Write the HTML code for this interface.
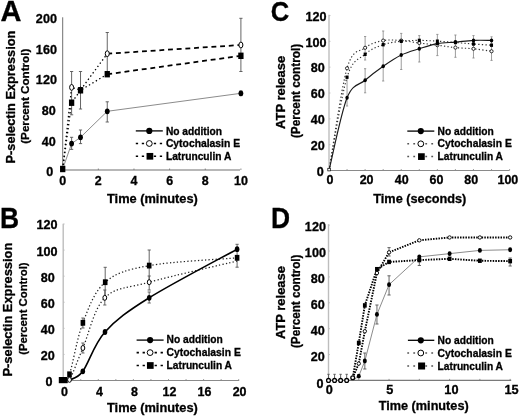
<!DOCTYPE html>
<html><head><meta charset="utf-8"><style>
html,body{margin:0;padding:0;background:#fff;}
svg{display:block;font-family:"Liberation Sans", sans-serif;filter:blur(0.4px);}
text{stroke:#000;stroke-width:0.3px;}
</style></head><body>
<svg width="520" height="416" viewBox="0 0 520 416">
<rect width="520" height="416" fill="#fff"/>
<path d="M62.7,17.3 L62.7,170.0" fill="none" stroke="#707070" stroke-width="1"/>
<path d="M62.7,170.0 L240.0,170.0" fill="none" stroke="#707070" stroke-width="1.2"/>
<path d="M98.34,170.0 L98.34,168.50" stroke="#707070" stroke-width="0.8"/>
<path d="M133.98,170.0 L133.98,168.50" stroke="#707070" stroke-width="0.8"/>
<path d="M169.62,170.0 L169.62,168.50" stroke="#707070" stroke-width="0.8"/>
<path d="M205.26,170.0 L205.26,168.50" stroke="#707070" stroke-width="0.8"/>
<path d="M240.90,170.0 L240.90,168.50" stroke="#707070" stroke-width="0.8"/>
<text x="0.6" y="20.7" font-size="29.0" text-anchor="start" font-weight="bold" fill="#000">A</text>
<text x="49.65" y="176.15" font-size="12" text-anchor="middle" font-weight="bold" fill="#000" textLength="7.01" lengthAdjust="spacingAndGlyphs">0</text>
<text x="48.75" y="145.52" font-size="12" text-anchor="middle" font-weight="bold" fill="#000" textLength="14.01" lengthAdjust="spacingAndGlyphs">40</text>
<text x="48.75" y="114.89" font-size="12" text-anchor="middle" font-weight="bold" fill="#000" textLength="14.01" lengthAdjust="spacingAndGlyphs">80</text>
<text x="46.4" y="84.25" font-size="12" text-anchor="middle" font-weight="bold" fill="#000" textLength="21.02" lengthAdjust="spacingAndGlyphs">120</text>
<text x="46.4" y="53.62" font-size="12" text-anchor="middle" font-weight="bold" fill="#000" textLength="21.02" lengthAdjust="spacingAndGlyphs">160</text>
<text x="46.4" y="22.99" font-size="12" text-anchor="middle" font-weight="bold" fill="#000" textLength="21.02" lengthAdjust="spacingAndGlyphs">200</text>
<text x="62.7" y="184.5" font-size="12" text-anchor="middle" font-weight="bold" fill="#000" textLength="6.94" lengthAdjust="spacingAndGlyphs">0</text>
<text x="98.34" y="184.5" font-size="12" text-anchor="middle" font-weight="bold" fill="#000" textLength="6.94" lengthAdjust="spacingAndGlyphs">2</text>
<text x="133.98000000000002" y="184.5" font-size="12" text-anchor="middle" font-weight="bold" fill="#000" textLength="6.94" lengthAdjust="spacingAndGlyphs">4</text>
<text x="169.62" y="184.5" font-size="12" text-anchor="middle" font-weight="bold" fill="#000" textLength="6.94" lengthAdjust="spacingAndGlyphs">6</text>
<text x="205.26" y="184.5" font-size="12" text-anchor="middle" font-weight="bold" fill="#000" textLength="6.94" lengthAdjust="spacingAndGlyphs">8</text>
<text x="240.89999999999998" y="184.5" font-size="12" text-anchor="middle" font-weight="bold" fill="#000" textLength="13.88" lengthAdjust="spacingAndGlyphs">10</text>
<text x="152.4" y="202.8" font-size="12.6" text-anchor="middle" font-weight="bold" fill="#000" textLength="90.8" lengthAdjust="spacingAndGlyphs">Time (minutes)</text>
<text transform="translate(14.5,97.1) rotate(-90)" font-size="12.6" text-anchor="middle" font-weight="bold" fill="#000" textLength="132.8" lengthAdjust="spacingAndGlyphs">P-selectin Expression</text>
<text transform="translate(28.6,96.25) rotate(-90)" font-size="11.6" text-anchor="middle" font-weight="bold" fill="#000" textLength="95" lengthAdjust="spacingAndGlyphs">(Percent Control)</text>
<path d="M71.61,137.30 L71.61,149.40 M70.01,137.30 L73.21,137.30 M70.01,149.40 L73.21,149.40" stroke="#555" stroke-width="0.9" fill="none"/>
<path d="M80.52,130.00 L80.52,143.60 M78.92,130.00 L82.12,130.00 M78.92,143.60 L82.12,143.60" stroke="#555" stroke-width="0.9" fill="none"/>
<path d="M107.25,101.80 L107.25,122.00 M105.65,101.80 L108.85,101.80 M105.65,122.00 L108.85,122.00" stroke="#555" stroke-width="0.9" fill="none"/>
<path d="M240.90,91.00 L240.90,95.60 M239.30,91.00 L242.50,91.00 M239.30,95.60 L242.50,95.60" stroke="#555" stroke-width="0.9" fill="none"/>
<path d="M71.61,71.50 L71.61,114.80 M70.01,71.50 L73.21,71.50 M70.01,114.80 L73.21,114.80" stroke="#555" stroke-width="0.9" fill="none"/>
<path d="M80.52,71.50 L80.52,109.00 M78.92,71.50 L82.12,71.50 M78.92,109.00 L82.12,109.00" stroke="#555" stroke-width="0.9" fill="none"/>
<path d="M107.25,32.50 L107.25,74.00 M105.65,32.50 L108.85,32.50 M105.65,74.00 L108.85,74.00" stroke="#555" stroke-width="0.9" fill="none"/>
<path d="M240.90,18.30 L240.90,71.50 M239.30,18.30 L242.50,18.30 M239.30,71.50 L242.50,71.50" stroke="#555" stroke-width="0.9" fill="none"/>
<path d="M62.70,169.00 L71.61,143.60 L80.52,137.30 L107.25,111.30 L240.90,93.30" fill="none" stroke="#8c8c8c" stroke-width="1" stroke-linecap="butt"/>
<path d="M62.70,169.00 L71.61,87.40 L80.52,90.00 L107.25,53.70" fill="none" stroke="#000" stroke-width="1.3" stroke-dasharray="1.4,2.6" stroke-linecap="butt"/>
<path d="M62.70,169.00 L71.61,102.70 L80.52,90.30 L107.25,74.20" fill="none" stroke="#000" stroke-width="1.3" stroke-dasharray="1.4,2.6" stroke-linecap="butt"/>
<path d="M107.25,53.70 L240.90,45.00" fill="none" stroke="#000" stroke-width="1.75" stroke-dasharray="4.9,3.8" stroke-linecap="butt"/>
<path d="M107.25,74.20 L240.90,55.80" fill="none" stroke="#000" stroke-width="1.75" stroke-dasharray="4.9,3.8" stroke-linecap="butt"/>
<ellipse cx="71.61" cy="143.60" rx="2.4" ry="2.9" fill="#000"/>
<ellipse cx="80.52" cy="137.30" rx="2.4" ry="2.9" fill="#000"/>
<ellipse cx="107.25" cy="111.30" rx="2.4" ry="2.9" fill="#000"/>
<ellipse cx="240.90" cy="93.30" rx="2.4" ry="2.9" fill="#000"/>
<ellipse cx="71.61" cy="87.40" rx="2.0" ry="2.9" fill="#fff" stroke="#000" stroke-width="1.0"/>
<ellipse cx="80.52" cy="90.00" rx="2.0" ry="2.9" fill="#fff" stroke="#000" stroke-width="1.0"/>
<ellipse cx="107.25" cy="53.70" rx="2.0" ry="2.9" fill="#fff" stroke="#000" stroke-width="1.0"/>
<ellipse cx="240.90" cy="45.00" rx="2.0" ry="2.9" fill="#fff" stroke="#000" stroke-width="1.0"/>
<rect x="60.05" y="165.80" width="5.3" height="6.4" fill="#000"/>
<rect x="68.96" y="99.50" width="5.3" height="6.4" fill="#000"/>
<rect x="77.87" y="87.10" width="5.3" height="6.4" fill="#000"/>
<rect x="104.60" y="71.00" width="5.3" height="6.4" fill="#000"/>
<rect x="238.25" y="52.60" width="5.3" height="6.4" fill="#000"/>
<path d="M135.80,130.90 L162.80,130.90" fill="none" stroke="#000" stroke-width="1.3" stroke-linecap="butt"/>
<ellipse cx="149.30" cy="130.90" rx="3.1" ry="3.1" fill="#000"/>
<path d="M135.8,143.5 L162.8,143.5" stroke="#000" stroke-width="1.6" stroke-dasharray="2.3,3.7"/>
<path d="M135.8,156.3 L162.8,156.3" stroke="#000" stroke-width="1.6" stroke-dasharray="2.3,3.7"/>
<ellipse cx="149.30" cy="143.50" rx="2.9" ry="2.9" fill="#fff" stroke="#000" stroke-width="1"/>
<rect x="146.55" y="152.95" width="6.7" height="6.7" fill="#000"/>
<text x="165.90000000000003" y="134.5" font-size="10.4" text-anchor="start" font-weight="bold" fill="#000" textLength="56.2" lengthAdjust="spacingAndGlyphs">No addition</text>
<text x="165.90000000000003" y="147.1" font-size="10.4" text-anchor="start" font-weight="bold" fill="#000" textLength="74.2" lengthAdjust="spacingAndGlyphs">Cytochalasin E</text>
<text x="165.90000000000003" y="159.9" font-size="10.4" text-anchor="start" font-weight="bold" fill="#000" textLength="65.4" lengthAdjust="spacingAndGlyphs">Latrunculin A</text>
<path d="M63.2,223.8 L63.2,380.5" fill="none" stroke="#bdbdbd" stroke-width="1.4"/>
<path d="M63.2,380.5 L239.2,380.5" fill="none" stroke="#8a8a8a" stroke-width="1"/>
<path d="M80.75,380.5 L80.75,379.00" stroke="#8a8a8a" stroke-width="0.8"/>
<path d="M98.30,380.5 L98.30,379.00" stroke="#8a8a8a" stroke-width="0.8"/>
<path d="M115.85,380.5 L115.85,379.00" stroke="#8a8a8a" stroke-width="0.8"/>
<path d="M133.40,380.5 L133.40,379.00" stroke="#8a8a8a" stroke-width="0.8"/>
<path d="M150.95,380.5 L150.95,379.00" stroke="#8a8a8a" stroke-width="0.8"/>
<path d="M168.50,380.5 L168.50,379.00" stroke="#8a8a8a" stroke-width="0.8"/>
<path d="M186.05,380.5 L186.05,379.00" stroke="#8a8a8a" stroke-width="0.8"/>
<path d="M203.60,380.5 L203.60,379.00" stroke="#8a8a8a" stroke-width="0.8"/>
<path d="M221.15,380.5 L221.15,379.00" stroke="#8a8a8a" stroke-width="0.8"/>
<path d="M238.70,380.5 L238.70,379.00" stroke="#8a8a8a" stroke-width="0.8"/>
<path d="M63.2,354.42 L64.70,354.42" stroke="#bdbdbd" stroke-width="0.8"/>
<path d="M63.2,328.34 L64.70,328.34" stroke="#bdbdbd" stroke-width="0.8"/>
<path d="M63.2,302.26 L64.70,302.26" stroke="#bdbdbd" stroke-width="0.8"/>
<path d="M63.2,276.18 L64.70,276.18" stroke="#bdbdbd" stroke-width="0.8"/>
<path d="M63.2,250.10 L64.70,250.10" stroke="#bdbdbd" stroke-width="0.8"/>
<path d="M63.2,224.02 L64.70,224.02" stroke="#bdbdbd" stroke-width="0.8"/>
<text x="0.1" y="227.9" font-size="28.8" text-anchor="start" font-weight="bold" fill="#000" textLength="19.1" lengthAdjust="spacingAndGlyphs">B</text>
<text x="49.05" y="386.34" font-size="12" text-anchor="middle" font-weight="bold" fill="#000" textLength="7.01" lengthAdjust="spacingAndGlyphs">0</text>
<text x="47.65" y="360.19" font-size="12" text-anchor="middle" font-weight="bold" fill="#000" textLength="14.01" lengthAdjust="spacingAndGlyphs">20</text>
<text x="47.65" y="334.04" font-size="12" text-anchor="middle" font-weight="bold" fill="#000" textLength="14.01" lengthAdjust="spacingAndGlyphs">40</text>
<text x="47.65" y="307.89" font-size="12" text-anchor="middle" font-weight="bold" fill="#000" textLength="14.01" lengthAdjust="spacingAndGlyphs">60</text>
<text x="47.65" y="281.74" font-size="12" text-anchor="middle" font-weight="bold" fill="#000" textLength="14.01" lengthAdjust="spacingAndGlyphs">80</text>
<text x="47.1" y="255.59" font-size="12" text-anchor="middle" font-weight="bold" fill="#000" textLength="21.02" lengthAdjust="spacingAndGlyphs">100</text>
<text x="47.1" y="229.44" font-size="12" text-anchor="middle" font-weight="bold" fill="#000" textLength="21.02" lengthAdjust="spacingAndGlyphs">120</text>
<text x="64.4" y="396.2" font-size="12" text-anchor="middle" font-weight="bold" fill="#000" textLength="6.94" lengthAdjust="spacingAndGlyphs">0</text>
<text x="99.44" y="396.2" font-size="12" text-anchor="middle" font-weight="bold" fill="#000" textLength="6.94" lengthAdjust="spacingAndGlyphs">4</text>
<text x="134.48000000000002" y="396.2" font-size="12" text-anchor="middle" font-weight="bold" fill="#000" textLength="6.94" lengthAdjust="spacingAndGlyphs">8</text>
<text x="169.52" y="396.2" font-size="12" text-anchor="middle" font-weight="bold" fill="#000" textLength="13.88" lengthAdjust="spacingAndGlyphs">12</text>
<text x="204.56" y="396.2" font-size="12" text-anchor="middle" font-weight="bold" fill="#000" textLength="13.88" lengthAdjust="spacingAndGlyphs">16</text>
<text x="239.6" y="396.2" font-size="12" text-anchor="middle" font-weight="bold" fill="#000" textLength="13.88" lengthAdjust="spacingAndGlyphs">20</text>
<text x="152.4" y="411.8" font-size="12.6" text-anchor="middle" font-weight="bold" fill="#000" textLength="90.8" lengthAdjust="spacingAndGlyphs">Time (minutes)</text>
<text transform="translate(11.8,309.65) rotate(-90)" font-size="12.8" text-anchor="middle" font-weight="bold" fill="#000" textLength="133.9" lengthAdjust="spacingAndGlyphs">P-selectin Expression</text>
<text transform="translate(26.8,308.6) rotate(-90)" font-size="11.6" text-anchor="middle" font-weight="bold" fill="#000" textLength="92.3" lengthAdjust="spacingAndGlyphs">(Percent Control)</text>
<path d="M82.90,318.00 L82.90,328.00 M81.30,318.00 L84.50,318.00 M81.30,328.00 L84.50,328.00" stroke="#555" stroke-width="0.9" fill="none"/>
<path d="M82.90,343.00 L82.90,353.00 M81.30,343.00 L84.50,343.00 M81.30,353.00 L84.50,353.00" stroke="#555" stroke-width="0.9" fill="none"/>
<path d="M105.20,267.30 L105.20,297.00 M103.60,267.30 L106.80,267.30 M103.60,297.00 L106.80,297.00" stroke="#555" stroke-width="0.9" fill="none"/>
<path d="M104.80,290.00 L104.80,305.00 M103.20,290.00 L106.40,290.00 M103.20,305.00 L106.40,305.00" stroke="#555" stroke-width="0.9" fill="none"/>
<path d="M149.20,250.00 L149.20,281.00 M147.60,250.00 L150.80,250.00 M147.60,281.00 L150.80,281.00" stroke="#555" stroke-width="0.9" fill="none"/>
<path d="M149.20,276.00 L149.20,290.00 M147.60,276.00 L150.80,276.00 M147.60,290.00 L150.80,290.00" stroke="#555" stroke-width="0.9" fill="none"/>
<path d="M149.20,292.00 L149.20,303.00 M147.60,292.00 L150.80,292.00 M147.60,303.00 L150.80,303.00" stroke="#555" stroke-width="0.9" fill="none"/>
<path d="M237.10,244.30 L237.10,267.20 M235.50,244.30 L238.70,244.30 M235.50,267.20 L238.70,267.20" stroke="#555" stroke-width="0.9" fill="none"/>
<path d="M63.20,380.20 C64.25,379.22 66.22,383.87 69.50,374.30 C72.78,364.73 76.95,338.15 82.90,322.80 C88.85,307.45 94.15,291.73 105.20,282.20 C116.25,272.67 127.22,269.67 149.20,265.60 C171.18,261.53 222.45,259.10 237.10,257.80" fill="none" stroke="#222" stroke-width="1.25" stroke-dasharray="1.3,2.2" stroke-linecap="butt"/>
<path d="M63.20,380.20 C64.25,380.13 66.22,385.17 69.50,379.80 C72.78,374.43 77.02,361.67 82.90,348.00 C88.78,334.33 93.75,308.77 104.80,297.80 C115.85,286.83 127.15,288.33 149.20,282.20 C171.25,276.07 222.45,264.53 237.10,261.00" fill="none" stroke="#222" stroke-width="1.25" stroke-dasharray="1.3,2.2" stroke-linecap="butt"/>
<path d="M69.50,380.00 C71.72,378.55 76.88,379.30 82.80,371.30 C88.72,363.30 93.93,344.25 105.00,332.00 C116.07,319.75 127.18,311.60 149.20,297.80 C171.22,284.00 222.45,257.30 237.10,249.20" fill="none" stroke="#000" stroke-width="1.6" stroke-linecap="butt"/>
<rect x="58.8" y="377" width="8.8" height="6.2" fill="#000"/>
<rect x="67.20" y="371.40" width="4.6" height="5.8" fill="#000"/>
<rect x="80.60" y="319.90" width="4.6" height="5.8" fill="#000"/>
<rect x="102.90" y="279.30" width="4.6" height="5.8" fill="#000"/>
<rect x="146.90" y="262.70" width="4.6" height="5.8" fill="#000"/>
<rect x="234.80" y="254.90" width="4.6" height="5.8" fill="#000"/>
<ellipse cx="69.50" cy="379.80" rx="1.9" ry="2.5" fill="#fff" stroke="#000" stroke-width="1.0"/>
<ellipse cx="82.90" cy="348.00" rx="1.9" ry="2.5" fill="#fff" stroke="#000" stroke-width="1.0"/>
<ellipse cx="104.80" cy="297.80" rx="1.9" ry="2.5" fill="#fff" stroke="#000" stroke-width="1.0"/>
<ellipse cx="149.20" cy="282.20" rx="1.9" ry="2.5" fill="#fff" stroke="#000" stroke-width="1.0"/>
<ellipse cx="82.80" cy="371.30" rx="2.3" ry="2.9" fill="#000"/>
<ellipse cx="105.00" cy="332.00" rx="2.3" ry="2.9" fill="#000"/>
<ellipse cx="149.20" cy="297.80" rx="2.3" ry="2.9" fill="#000"/>
<ellipse cx="237.10" cy="249.20" rx="2.3" ry="2.9" fill="#000"/>
<path d="M136.60,340.10 L163.60,340.10" fill="none" stroke="#000" stroke-width="1.3" stroke-linecap="butt"/>
<ellipse cx="150.10" cy="340.10" rx="3.1" ry="3.1" fill="#000"/>
<path d="M136.6,352.6 L163.6,352.6" stroke="#000" stroke-width="1.6" stroke-dasharray="2.3,3.7"/>
<path d="M136.6,365.5 L163.6,365.5" stroke="#000" stroke-width="1.6" stroke-dasharray="2.3,3.7"/>
<ellipse cx="150.10" cy="352.60" rx="2.9" ry="2.9" fill="#fff" stroke="#000" stroke-width="1"/>
<rect x="146.95" y="362.15" width="6.7" height="6.7" fill="#000"/>
<text x="166.6" y="342.90000000000003" font-size="10.4" text-anchor="start" font-weight="bold" fill="#000" textLength="56.2" lengthAdjust="spacingAndGlyphs">No addition</text>
<text x="166.6" y="356.20000000000005" font-size="10.4" text-anchor="start" font-weight="bold" fill="#000" textLength="74.2" lengthAdjust="spacingAndGlyphs">Cytochalasin E</text>
<text x="166.6" y="369.1" font-size="10.4" text-anchor="start" font-weight="bold" fill="#000" textLength="65.4" lengthAdjust="spacingAndGlyphs">Latrunculin A</text>
<path d="M329,14.8 L329,170.5" fill="none" stroke="#b8b8b8" stroke-width="1.3"/>
<path d="M329,170.5 L509.5,170.5" fill="none" stroke="#8a8a8a" stroke-width="1"/>
<path d="M347.06,170.5 L347.06,169.00" stroke="#8a8a8a" stroke-width="0.8"/>
<path d="M365.12,170.5 L365.12,169.00" stroke="#8a8a8a" stroke-width="0.8"/>
<path d="M383.18,170.5 L383.18,169.00" stroke="#8a8a8a" stroke-width="0.8"/>
<path d="M401.24,170.5 L401.24,169.00" stroke="#8a8a8a" stroke-width="0.8"/>
<path d="M419.30,170.5 L419.30,169.00" stroke="#8a8a8a" stroke-width="0.8"/>
<path d="M437.36,170.5 L437.36,169.00" stroke="#8a8a8a" stroke-width="0.8"/>
<path d="M455.42,170.5 L455.42,169.00" stroke="#8a8a8a" stroke-width="0.8"/>
<path d="M473.48,170.5 L473.48,169.00" stroke="#8a8a8a" stroke-width="0.8"/>
<path d="M491.54,170.5 L491.54,169.00" stroke="#8a8a8a" stroke-width="0.8"/>
<path d="M509.60,170.5 L509.60,169.00" stroke="#8a8a8a" stroke-width="0.8"/>
<path d="M329,144.67 L330.50,144.67" stroke="#b8b8b8" stroke-width="0.8"/>
<path d="M329,118.84 L330.50,118.84" stroke="#b8b8b8" stroke-width="0.8"/>
<path d="M329,93.01 L330.50,93.01" stroke="#b8b8b8" stroke-width="0.8"/>
<path d="M329,67.18 L330.50,67.18" stroke="#b8b8b8" stroke-width="0.8"/>
<path d="M329,41.35 L330.50,41.35" stroke="#b8b8b8" stroke-width="0.8"/>
<path d="M329,15.52 L330.50,15.52" stroke="#b8b8b8" stroke-width="0.8"/>
<text x="270.8" y="20.5" font-size="28.1" text-anchor="start" font-weight="bold" fill="#000" textLength="18.5" lengthAdjust="spacingAndGlyphs">C</text>
<text x="320.15" y="175.84" font-size="12" text-anchor="middle" font-weight="bold" fill="#000" textLength="7.01" lengthAdjust="spacingAndGlyphs">0</text>
<text x="317.85" y="149.99" font-size="12" text-anchor="middle" font-weight="bold" fill="#000" textLength="14.01" lengthAdjust="spacingAndGlyphs">20</text>
<text x="317.85" y="124.14" font-size="12" text-anchor="middle" font-weight="bold" fill="#000" textLength="14.01" lengthAdjust="spacingAndGlyphs">40</text>
<text x="317.85" y="98.29" font-size="12" text-anchor="middle" font-weight="bold" fill="#000" textLength="14.01" lengthAdjust="spacingAndGlyphs">60</text>
<text x="317.85" y="72.44" font-size="12" text-anchor="middle" font-weight="bold" fill="#000" textLength="14.01" lengthAdjust="spacingAndGlyphs">80</text>
<text x="315.95" y="46.59" font-size="12" text-anchor="middle" font-weight="bold" fill="#000" textLength="21.02" lengthAdjust="spacingAndGlyphs">100</text>
<text x="315.95" y="20.74" font-size="12" text-anchor="middle" font-weight="bold" fill="#000" textLength="21.02" lengthAdjust="spacingAndGlyphs">120</text>
<text x="329.9" y="184.4" font-size="12" text-anchor="middle" font-weight="bold" fill="#000" textLength="6.94" lengthAdjust="spacingAndGlyphs">0</text>
<text x="366.6" y="184.4" font-size="12" text-anchor="middle" font-weight="bold" fill="#000" textLength="13.88" lengthAdjust="spacingAndGlyphs">20</text>
<text x="401.7" y="184.4" font-size="12" text-anchor="middle" font-weight="bold" fill="#000" textLength="13.88" lengthAdjust="spacingAndGlyphs">40</text>
<text x="436.4" y="184.4" font-size="12" text-anchor="middle" font-weight="bold" fill="#000" textLength="13.88" lengthAdjust="spacingAndGlyphs">60</text>
<text x="471.3" y="184.4" font-size="12" text-anchor="middle" font-weight="bold" fill="#000" textLength="13.88" lengthAdjust="spacingAndGlyphs">80</text>
<text x="507.9" y="184.4" font-size="12" text-anchor="middle" font-weight="bold" fill="#000" textLength="20.82" lengthAdjust="spacingAndGlyphs">100</text>
<text x="419.8" y="203.3" font-size="12.6" text-anchor="middle" font-weight="bold" fill="#000" textLength="93" lengthAdjust="spacingAndGlyphs">Time (seconds)</text>
<text transform="translate(284.8,92.4) rotate(-90)" font-size="12.6" text-anchor="middle" font-weight="bold" fill="#000" textLength="73" lengthAdjust="spacingAndGlyphs">ATP release</text>
<text transform="translate(299.8,91.0) rotate(-90)" font-size="12.0" text-anchor="middle" font-weight="bold" fill="#000" textLength="94.2" lengthAdjust="spacingAndGlyphs">(Percent control)</text>
<path d="M347.06,77.00 L347.06,106.00 M345.96,77.00 L348.16,77.00 M345.96,106.00 L348.16,106.00" stroke="#8a8a8a" stroke-width="0.85" fill="none"/>
<path d="M365.12,36.50 L365.12,60.00 M364.02,36.50 L366.22,36.50 M364.02,60.00 L366.22,60.00" stroke="#8a8a8a" stroke-width="0.85" fill="none"/>
<path d="M365.12,68.70 L365.12,92.80 M364.02,68.70 L366.22,68.70 M364.02,92.80 L366.22,92.80" stroke="#8a8a8a" stroke-width="0.85" fill="none"/>
<path d="M383.18,31.00 L383.18,81.00 M382.08,31.00 L384.28,31.00 M382.08,81.00 L384.28,81.00" stroke="#8a8a8a" stroke-width="0.85" fill="none"/>
<path d="M401.24,33.40 L401.24,69.50 M400.14,33.40 L402.34,33.40 M400.14,69.50 L402.34,69.50" stroke="#8a8a8a" stroke-width="0.85" fill="none"/>
<path d="M419.30,35.60 L419.30,62.00 M418.20,35.60 L420.40,35.60 M418.20,62.00 L420.40,62.00" stroke="#8a8a8a" stroke-width="0.85" fill="none"/>
<path d="M437.36,34.40 L437.36,55.60 M436.26,34.40 L438.46,34.40 M436.26,55.60 L438.46,55.60" stroke="#8a8a8a" stroke-width="0.85" fill="none"/>
<path d="M455.42,35.00 L455.42,57.30 M454.32,35.00 L456.52,35.00 M454.32,57.30 L456.52,57.30" stroke="#8a8a8a" stroke-width="0.85" fill="none"/>
<path d="M473.48,35.60 L473.48,58.00 M472.38,35.60 L474.58,35.60 M472.38,58.00 L474.58,58.00" stroke="#8a8a8a" stroke-width="0.85" fill="none"/>
<path d="M491.54,36.80 L491.54,60.40 M490.44,36.80 L492.64,36.80 M490.44,60.40 L492.64,60.40" stroke="#8a8a8a" stroke-width="0.85" fill="none"/>
<path d="M329.00,170.50 C332.01,154.95 341.04,96.57 347.06,77.20 C353.08,57.83 359.10,59.72 365.12,54.30 C371.14,48.88 377.16,46.87 383.18,44.70 C389.20,42.53 395.22,42.02 401.24,41.30 C407.26,40.58 413.28,40.42 419.30,40.40 C425.32,40.38 431.34,40.85 437.36,41.20 C443.38,41.55 449.40,42.03 455.42,42.50 C461.44,42.97 467.46,43.55 473.48,44.00 C479.50,44.45 488.53,45.00 491.54,45.20" fill="none" stroke="#333" stroke-width="1.15" stroke-dasharray="1.3,2.2" stroke-linecap="butt"/>
<path d="M329.00,170.50 C332.01,153.47 341.04,88.75 347.06,68.30 C353.08,47.85 359.10,52.42 365.12,47.80 C371.14,43.18 377.16,41.80 383.18,40.60 C389.20,39.40 395.22,40.20 401.24,40.60 C407.26,41.00 413.28,42.23 419.30,43.00 C425.32,43.77 431.34,44.43 437.36,45.20 C443.38,45.97 449.40,47.00 455.42,47.60 C461.44,48.20 467.46,48.19 473.48,48.80 C479.50,49.41 488.53,50.84 491.54,51.25" fill="none" stroke="#333" stroke-width="1.15" stroke-dasharray="1.3,2.2" stroke-linecap="butt"/>
<path d="M329.00,170.50 C332.01,158.38 341.04,112.83 347.06,97.80 C353.08,82.77 359.10,85.55 365.12,80.30 C371.14,75.05 377.16,70.52 383.18,66.30 C389.20,62.08 395.22,57.93 401.24,55.00 C407.26,52.07 413.28,50.60 419.30,48.70 C425.32,46.80 431.34,44.70 437.36,43.60 C443.38,42.50 449.40,42.63 455.42,42.10 C461.44,41.57 467.46,40.68 473.48,40.40 C479.50,40.12 488.53,40.40 491.54,40.40" fill="none" stroke="#1a1a1a" stroke-width="1.15" stroke-linecap="butt"/>
<ellipse cx="347.06" cy="68.30" rx="1.6" ry="1.6" fill="#fff" stroke="#000" stroke-width="0.8"/>
<ellipse cx="365.12" cy="47.80" rx="1.6" ry="1.6" fill="#fff" stroke="#000" stroke-width="0.8"/>
<ellipse cx="383.18" cy="40.60" rx="1.6" ry="1.6" fill="#fff" stroke="#000" stroke-width="0.8"/>
<ellipse cx="401.24" cy="40.60" rx="1.6" ry="1.6" fill="#fff" stroke="#000" stroke-width="0.8"/>
<ellipse cx="419.30" cy="43.00" rx="1.6" ry="1.6" fill="#fff" stroke="#000" stroke-width="0.8"/>
<ellipse cx="437.36" cy="45.20" rx="1.6" ry="1.6" fill="#fff" stroke="#000" stroke-width="0.8"/>
<ellipse cx="455.42" cy="47.60" rx="1.6" ry="1.6" fill="#fff" stroke="#000" stroke-width="0.8"/>
<ellipse cx="473.48" cy="48.80" rx="1.6" ry="1.6" fill="#fff" stroke="#000" stroke-width="0.8"/>
<ellipse cx="491.54" cy="51.25" rx="1.6" ry="1.6" fill="#fff" stroke="#000" stroke-width="0.8"/>
<rect x="345.56" y="75.50" width="3.0" height="3.4" fill="#000"/>
<rect x="363.62" y="52.60" width="3.0" height="3.4" fill="#000"/>
<rect x="381.68" y="43.00" width="3.0" height="3.4" fill="#000"/>
<rect x="399.74" y="39.60" width="3.0" height="3.4" fill="#000"/>
<rect x="417.80" y="38.70" width="3.0" height="3.4" fill="#000"/>
<rect x="435.86" y="39.50" width="3.0" height="3.4" fill="#000"/>
<rect x="453.92" y="40.80" width="3.0" height="3.4" fill="#000"/>
<rect x="471.98" y="42.30" width="3.0" height="3.4" fill="#000"/>
<rect x="490.04" y="43.50" width="3.0" height="3.4" fill="#000"/>
<ellipse cx="347.06" cy="97.80" rx="1.7" ry="2.0" fill="#000"/>
<ellipse cx="365.12" cy="80.30" rx="1.7" ry="2.0" fill="#000"/>
<ellipse cx="383.18" cy="66.30" rx="1.7" ry="2.0" fill="#000"/>
<ellipse cx="401.24" cy="55.00" rx="1.7" ry="2.0" fill="#000"/>
<ellipse cx="419.30" cy="48.70" rx="1.7" ry="2.0" fill="#000"/>
<ellipse cx="437.36" cy="43.60" rx="1.7" ry="2.0" fill="#000"/>
<ellipse cx="455.42" cy="42.10" rx="1.7" ry="2.0" fill="#000"/>
<ellipse cx="473.48" cy="40.40" rx="1.7" ry="2.0" fill="#000"/>
<ellipse cx="491.54" cy="40.40" rx="1.7" ry="2.0" fill="#000"/>
<rect x="327.8" y="168.3" width="2.6" height="2.6" fill="#fff" stroke="#000" stroke-width="0.7"/>
<path d="M407.30,131.10 L434.30,131.10" fill="none" stroke="#000" stroke-width="1.3" stroke-linecap="butt"/>
<ellipse cx="420.80" cy="131.10" rx="3.1" ry="3.1" fill="#000"/>
<path d="M407.3,143.8 L434.3,143.8" stroke="#555" stroke-width="1.5" stroke-dasharray="1.8,4.2"/>
<path d="M407.3,156.6 L434.3,156.6" stroke="#555" stroke-width="1.5" stroke-dasharray="1.8,4.2"/>
<ellipse cx="420.80" cy="143.80" rx="2.9" ry="2.9" fill="#fff" stroke="#000" stroke-width="1"/>
<rect x="418.05" y="153.25" width="6.7" height="6.7" fill="#000"/>
<text x="437.6" y="134.7" font-size="10.4" text-anchor="start" font-weight="bold" fill="#000" textLength="56.2" lengthAdjust="spacingAndGlyphs">No addition</text>
<text x="437.6" y="147.4" font-size="10.4" text-anchor="start" font-weight="bold" fill="#000" textLength="74.2" lengthAdjust="spacingAndGlyphs">Cytochalasin E</text>
<text x="437.6" y="160.2" font-size="10.4" text-anchor="start" font-weight="bold" fill="#000" textLength="65.4" lengthAdjust="spacingAndGlyphs">Latrunculin A</text>
<path d="M328.5,224.2 L328.5,380.4" fill="none" stroke="#bdbdbd" stroke-width="1.4"/>
<path d="M328.5,380.4 L511.2,380.4" fill="none" stroke="#7a7a7a" stroke-width="1.1"/>
<path d="M358.77,380.4 L358.77,378.90" stroke="#7a7a7a" stroke-width="0.8"/>
<path d="M389.05,380.4 L389.05,378.90" stroke="#7a7a7a" stroke-width="0.8"/>
<path d="M419.32,380.4 L419.32,378.90" stroke="#7a7a7a" stroke-width="0.8"/>
<path d="M449.60,380.4 L449.60,378.90" stroke="#7a7a7a" stroke-width="0.8"/>
<path d="M479.88,380.4 L479.88,378.90" stroke="#7a7a7a" stroke-width="0.8"/>
<path d="M510.15,380.4 L510.15,378.90" stroke="#7a7a7a" stroke-width="0.8"/>
<path d="M328.5,354.53 L330.00,354.53" stroke="#bdbdbd" stroke-width="0.8"/>
<path d="M328.5,328.66 L330.00,328.66" stroke="#bdbdbd" stroke-width="0.8"/>
<path d="M328.5,302.79 L330.00,302.79" stroke="#bdbdbd" stroke-width="0.8"/>
<path d="M328.5,276.92 L330.00,276.92" stroke="#bdbdbd" stroke-width="0.8"/>
<path d="M328.5,251.05 L330.00,251.05" stroke="#bdbdbd" stroke-width="0.8"/>
<path d="M328.5,225.18 L330.00,225.18" stroke="#bdbdbd" stroke-width="0.8"/>
<text x="271.0" y="227.8" font-size="29.2" text-anchor="start" font-weight="bold" fill="#000" textLength="19.1" lengthAdjust="spacingAndGlyphs">D</text>
<text x="320.05" y="387.54" font-size="12" text-anchor="middle" font-weight="bold" fill="#000" textLength="7.01" lengthAdjust="spacingAndGlyphs">0</text>
<text x="317.85" y="361.42" font-size="12" text-anchor="middle" font-weight="bold" fill="#000" textLength="14.01" lengthAdjust="spacingAndGlyphs">20</text>
<text x="317.85" y="335.3" font-size="12" text-anchor="middle" font-weight="bold" fill="#000" textLength="14.01" lengthAdjust="spacingAndGlyphs">40</text>
<text x="317.85" y="309.19" font-size="12" text-anchor="middle" font-weight="bold" fill="#000" textLength="14.01" lengthAdjust="spacingAndGlyphs">60</text>
<text x="317.85" y="283.07" font-size="12" text-anchor="middle" font-weight="bold" fill="#000" textLength="14.01" lengthAdjust="spacingAndGlyphs">80</text>
<text x="315.4" y="256.96" font-size="12" text-anchor="middle" font-weight="bold" fill="#000" textLength="21.02" lengthAdjust="spacingAndGlyphs">100</text>
<text x="315.4" y="230.84" font-size="12" text-anchor="middle" font-weight="bold" fill="#000" textLength="21.02" lengthAdjust="spacingAndGlyphs">120</text>
<text x="329.2" y="393.9" font-size="12.1" text-anchor="middle" font-weight="bold" fill="#000" textLength="7.07" lengthAdjust="spacingAndGlyphs">0</text>
<text x="389.8" y="393.9" font-size="12.1" text-anchor="middle" font-weight="bold" fill="#000" textLength="7.07" lengthAdjust="spacingAndGlyphs">5</text>
<text x="451.4" y="393.9" font-size="12.1" text-anchor="middle" font-weight="bold" fill="#000" textLength="14.13" lengthAdjust="spacingAndGlyphs">10</text>
<text x="511.5" y="393.9" font-size="12.1" text-anchor="middle" font-weight="bold" fill="#000" textLength="14.13" lengthAdjust="spacingAndGlyphs">15</text>
<text x="423.7" y="410.3" font-size="12.6" text-anchor="middle" font-weight="bold" fill="#000" textLength="89.9" lengthAdjust="spacingAndGlyphs">Time (minutes)</text>
<text transform="translate(284.8,302.5) rotate(-90)" font-size="12.6" text-anchor="middle" font-weight="bold" fill="#000" textLength="73" lengthAdjust="spacingAndGlyphs">ATP release</text>
<text transform="translate(299.8,301.3) rotate(-90)" font-size="12.0" text-anchor="middle" font-weight="bold" fill="#000" textLength="93.5" lengthAdjust="spacingAndGlyphs">(Percent control)</text>
<path d="M328.50,374.30 L328.50,380.00 M327.30,374.30 L329.70,374.30 M327.30,380.00 L329.70,380.00" stroke="#555" stroke-width="0.9" fill="none"/>
<path d="M334.56,374.30 L334.56,380.00 M333.36,374.30 L335.75,374.30 M333.36,380.00 L335.75,380.00" stroke="#555" stroke-width="0.9" fill="none"/>
<path d="M340.61,374.30 L340.61,380.00 M339.41,374.30 L341.81,374.30 M339.41,380.00 L341.81,380.00" stroke="#555" stroke-width="0.9" fill="none"/>
<path d="M346.67,374.30 L346.67,380.00 M345.47,374.30 L347.87,374.30 M345.47,380.00 L347.87,380.00" stroke="#555" stroke-width="0.9" fill="none"/>
<path d="M364.83,353.00 L364.83,369.00 M363.23,353.00 L366.43,353.00 M363.23,369.00 L366.43,369.00" stroke="#555" stroke-width="0.9" fill="none"/>
<path d="M376.94,305.00 L376.94,324.00 M375.34,305.00 L378.54,305.00 M375.34,324.00 L378.54,324.00" stroke="#555" stroke-width="0.9" fill="none"/>
<path d="M389.05,275.80 L389.05,295.00 M387.45,275.80 L390.65,275.80 M387.45,295.00 L390.65,295.00" stroke="#555" stroke-width="0.9" fill="none"/>
<path d="M389.05,247.60 L389.05,256.00 M387.45,247.60 L390.65,247.60 M387.45,256.00 L390.65,256.00" stroke="#555" stroke-width="0.9" fill="none"/>
<path d="M419.32,258.00 L419.32,265.50 M417.72,258.00 L420.93,258.00 M417.72,265.50 L420.93,265.50" stroke="#555" stroke-width="0.9" fill="none"/>
<path d="M510.15,258.00 L510.15,266.00 M508.55,258.00 L511.75,258.00 M508.55,266.00 L511.75,266.00" stroke="#555" stroke-width="0.9" fill="none"/>
<path d="M352.72,380.40 L358.77,376.13 L364.83,361.00 L376.94,314.43 L389.05,284.68 L419.32,256.87 L449.60,253.64 L479.88,250.40 L510.15,249.76" fill="none" stroke="#8c8c8c" stroke-width="1" stroke-linecap="butt"/>
<path d="M352.72,377.81 L358.77,342.89 L364.83,305.38 L376.94,269.16 L389.05,261.92 L419.32,260.10 L449.60,258.81 L479.88,260.75 L510.15,261.14" fill="none" stroke="#000" stroke-width="1.9" stroke-dasharray="1.5,1.2" stroke-linecap="butt"/>
<path d="M352.72,377.81 L358.77,363.58 L364.83,331.25 L376.94,273.04 L389.05,252.34 L419.32,240.31 L449.60,237.47 L479.88,237.47 L510.15,237.47" fill="none" stroke="#000" stroke-width="1.9" stroke-dasharray="1.5,1.2" stroke-linecap="butt"/>
<ellipse cx="328.50" cy="380.40" rx="1.9" ry="1.9" fill="#fff" stroke="#000" stroke-width="1.3"/>
<ellipse cx="334.56" cy="380.40" rx="1.9" ry="1.9" fill="#fff" stroke="#000" stroke-width="1.3"/>
<ellipse cx="340.61" cy="380.40" rx="1.9" ry="1.9" fill="#fff" stroke="#000" stroke-width="1.3"/>
<ellipse cx="346.67" cy="380.40" rx="1.9" ry="1.9" fill="#fff" stroke="#000" stroke-width="1.3"/>
<ellipse cx="352.72" cy="377.81" rx="1.9" ry="1.9" fill="#fff" stroke="#000" stroke-width="1.3"/>
<rect x="356.88" y="340.69" width="3.8" height="4.4" fill="#000"/>
<rect x="362.93" y="303.18" width="3.8" height="4.4" fill="#000"/>
<rect x="375.04" y="266.96" width="3.8" height="4.4" fill="#000"/>
<rect x="387.15" y="259.72" width="3.8" height="4.4" fill="#000"/>
<rect x="417.43" y="257.90" width="3.8" height="4.4" fill="#000"/>
<rect x="447.70" y="256.61" width="3.8" height="4.4" fill="#000"/>
<rect x="477.98" y="258.55" width="3.8" height="4.4" fill="#000"/>
<rect x="508.25" y="258.94" width="3.8" height="4.4" fill="#000"/>
<ellipse cx="358.77" cy="363.58" rx="1.7" ry="1.7" fill="#fff" stroke="#000" stroke-width="0.9"/>
<ellipse cx="364.83" cy="331.25" rx="1.7" ry="1.7" fill="#fff" stroke="#000" stroke-width="0.9"/>
<ellipse cx="376.94" cy="273.04" rx="1.7" ry="1.7" fill="#fff" stroke="#000" stroke-width="0.9"/>
<ellipse cx="389.05" cy="252.34" rx="1.7" ry="1.7" fill="#fff" stroke="#000" stroke-width="0.9"/>
<ellipse cx="419.32" cy="240.31" rx="1.7" ry="1.7" fill="#fff" stroke="#000" stroke-width="0.9"/>
<ellipse cx="449.60" cy="237.47" rx="1.7" ry="1.7" fill="#fff" stroke="#000" stroke-width="0.9"/>
<ellipse cx="479.88" cy="237.47" rx="1.7" ry="1.7" fill="#fff" stroke="#000" stroke-width="0.9"/>
<ellipse cx="510.15" cy="237.47" rx="1.7" ry="1.7" fill="#fff" stroke="#000" stroke-width="0.9"/>
<ellipse cx="358.77" cy="376.13" rx="2.0" ry="2.4" fill="#000"/>
<ellipse cx="364.83" cy="361.00" rx="2.0" ry="2.4" fill="#000"/>
<ellipse cx="376.94" cy="314.43" rx="2.0" ry="2.4" fill="#000"/>
<ellipse cx="389.05" cy="284.68" rx="2.0" ry="2.4" fill="#000"/>
<ellipse cx="419.32" cy="256.87" rx="2.0" ry="2.4" fill="#000"/>
<ellipse cx="449.60" cy="253.64" rx="2.0" ry="2.4" fill="#000"/>
<ellipse cx="479.88" cy="250.40" rx="2.0" ry="2.4" fill="#000"/>
<ellipse cx="510.15" cy="249.76" rx="2.0" ry="2.4" fill="#000"/>
<path d="M407.90,340.30 L434.30,340.30" fill="none" stroke="#000" stroke-width="1.3" stroke-linecap="butt"/>
<ellipse cx="420.80" cy="340.30" rx="3.1" ry="3.1" fill="#000"/>
<path d="M407.3,353.0 L434.3,353.0" stroke="#555" stroke-width="1.5" stroke-dasharray="1.8,4.2"/>
<path d="M407.3,366.0 L434.3,366.0" stroke="#555" stroke-width="1.5" stroke-dasharray="1.8,4.2"/>
<ellipse cx="420.80" cy="353.00" rx="2.9" ry="2.9" fill="#fff" stroke="#000" stroke-width="1"/>
<rect x="418.10" y="362.50" width="7" height="7" fill="#000"/>
<text x="437.6" y="343.90000000000003" font-size="10.4" text-anchor="start" font-weight="bold" fill="#000" textLength="56.2" lengthAdjust="spacingAndGlyphs">No addition</text>
<text x="437.6" y="356.6" font-size="10.4" text-anchor="start" font-weight="bold" fill="#000" textLength="74.2" lengthAdjust="spacingAndGlyphs">Cytochalasin E</text>
<text x="437.6" y="369.6" font-size="10.4" text-anchor="start" font-weight="bold" fill="#000" textLength="65.4" lengthAdjust="spacingAndGlyphs">Latrunculin A</text>
</svg>
</body></html>
